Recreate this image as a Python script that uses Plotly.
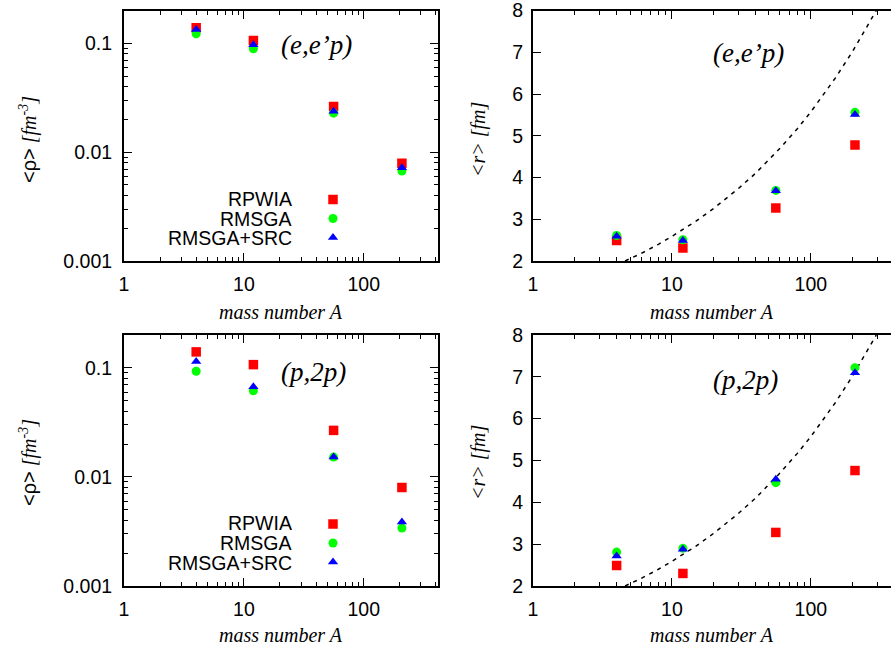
import plotly.graph_objects as go

# ---------------- data ----------------
A = [4, 12, 56, 208]
series_names = ["RPWIA", "RMSGA", "RMSGA+SRC"]

rho_ee_rpwia = [0.139, 0.106, 0.0262, 0.0079]
rho_ee_rmsga = [0.122, 0.089, 0.0228, 0.0067]
rho_ee_src = [0.134, 0.097, 0.0238, 0.0072]

rho_p2p_rpwia = [0.140, 0.107, 0.0267, 0.0080]
rho_p2p_rmsga = [0.093, 0.0615, 0.0152, 0.0034]
rho_p2p_src = [0.1145, 0.067, 0.0152, 0.00387]

r_ee_rpwia = [2.49, 2.31, 3.27, 4.78]
r_ee_rmsga = [2.61, 2.51, 3.69, 5.56]
r_ee_src = [2.59, 2.49, 3.68, 5.51]

r_p2p_rpwia = [2.49, 2.30, 3.28, 4.76]
r_p2p_rmsga = [2.81, 2.90, 4.47, 7.22]
r_p2p_src = [2.72, 2.88, 4.55, 7.10]

# dashed reference curve
curve_A = [4.6, 6, 8, 10, 15, 20, 30, 40, 60, 80, 100, 150, 200, 250, 296]
curve_r = [2.00, 2.18, 2.40, 2.59, 2.96, 3.26, 3.73, 4.10, 4.70, 5.17, 5.57, 6.38, 7.02, 7.56, 8.00]

x_tickvals = [1, 10, 100]
x_ticktext = ["1", "10", "100"]
rho_tickvals = [0.001, 0.01, 0.1]
rho_ticktext = ["0.001", "0.01", "0.1"]
x_minor = [m * 10 ** k for k in range(0, 3) for m in range(2, 10)]
rho_minor = [m * 10.0 ** k for k in range(-3, 0) for m in range(2, 10)]

# ---------------- styling ----------------
W, H = 891, 650
SANS = "Liberation Sans, Arial, sans-serif"
SERIF = "Liberation Serif, Times New Roman, serif"
tickfont = dict(family=SANS, size=19.5, color="black")

styles = [
    dict(symbol="square", size=9.5, color="#ff0000"),
    dict(symbol="circle", size=9, color="#00ff00"),
    dict(symbol="triangle-up", size=9, color="#0000ff"),
]


def px_x(p):
    return p / W


def px_y(p):
    return 1 - p / H


fig = go.Figure()

panels = [
    ("x", "y", [rho_ee_rpwia, rho_ee_rmsga, rho_ee_src], "legend"),
    ("x2", "y2", [r_ee_rpwia, r_ee_rmsga, r_ee_src], None),
    ("x3", "y3", [rho_p2p_rpwia, rho_p2p_rmsga, rho_p2p_src], "legend2"),
    ("x4", "y4", [r_p2p_rpwia, r_p2p_rmsga, r_p2p_src], None),
]

for xa, ya, ser, leg in panels:
    if leg is None:
        fig.add_trace(go.Scatter(x=curve_A, y=curve_r, mode="lines", xaxis=xa, yaxis=ya,
                                 line=dict(color="black", width=1.5, dash="4px,5px"),
                                 showlegend=False, hoverinfo="skip"))
    for vals, st, nm in zip(ser, styles, series_names):
        kw = dict(showlegend=False)
        if leg is not None:
            kw = dict(showlegend=True, legend=leg)
        fig.add_trace(go.Scatter(x=A, y=vals, mode="markers", xaxis=xa, yaxis=ya,
                                 name="", marker=dict(symbol=st["symbol"], size=st["size"],
                                                      color=st["color"], line=dict(width=0)),
                                 **kw))

LEFT_X = [px_x(124), px_x(438)]
RIGHT_X = [px_x(533), 1.0]
TOP_Y = [px_y(261), px_y(10.5)]
BOT_Y = [px_y(586), px_y(335)]


def log_x(domain, rng, anchor):
    return dict(type="log", domain=domain, range=rng, anchor=anchor, automargin=False,
                showline=True, linecolor="black", linewidth=2, mirror="allticks",
                ticks="inside", ticklen=8, tickwidth=1, tickcolor="black",
                tickmode="array", tickvals=x_tickvals, ticktext=x_ticktext,
                minor=dict(ticks="inside", ticklen=4, tickwidth=1, tickcolor="black",
                           tickmode="array", tickvals=x_minor, showgrid=False),
                showgrid=False, zeroline=False, tickfont=tickfont, ticklabelstandoff=5,
                ticklabeloverflow="allow")


def log_y(domain, anchor):
    return dict(type="log", domain=domain, range=[-3, -0.699], anchor=anchor, automargin=False,
                showline=True, linecolor="black", linewidth=2, mirror="allticks",
                ticks="inside", ticklen=8, tickwidth=1, tickcolor="black",
                tickmode="array", tickvals=rho_tickvals, ticktext=rho_ticktext,
                minor=dict(ticks="inside", ticklen=4, tickwidth=1, tickcolor="black",
                           tickmode="array", tickvals=rho_minor, showgrid=False),
                showgrid=False, zeroline=False, tickfont=tickfont, ticklabelstandoff=6,
                ticklabeloverflow="allow")


def lin_y(domain, anchor):
    return dict(type="linear", domain=domain, range=[2, 8], anchor=anchor, dtick=1,
                automargin=False,
                showline=True, linecolor="black", linewidth=2, mirror=False,
                ticks="inside", ticklen=8, tickwidth=1, tickcolor="black",
                showgrid=False, zeroline=False, tickfont=tickfont, ticklabelstandoff=4,
                ticklabeloverflow="allow")


def right_ticks(overlay, anchor):
    return dict(type="linear", overlaying=overlay, side="right", range=[2, 8], anchor=anchor,
                dtick=1, showline=False, ticks="inside", ticklen=8, tickwidth=1,
                automargin=False,
                tickcolor="black", showticklabels=False, showgrid=False, zeroline=False)


right_rng = [0, (891 - 533) / 138.9]
left_rng = [0, 2.619]

fig.update_layout(
    width=W, height=H,
    margin=dict(l=0, r=0, t=0, b=0, autoexpand=False),
    paper_bgcolor="white", plot_bgcolor="white",
    xaxis=log_x(LEFT_X, left_rng, "y"),
    yaxis=log_y(TOP_Y, "x"),
    xaxis2=log_x(RIGHT_X, right_rng, "y2"),
    yaxis2=lin_y(TOP_Y, "x2"),
    xaxis3=log_x(LEFT_X, left_rng, "y3"),
    yaxis3=log_y(BOT_Y, "x3"),
    xaxis4=log_x(RIGHT_X, right_rng, "y4"),
    yaxis4=lin_y(BOT_Y, "x4"),
    yaxis5=right_ticks("y2", "x2"),
    yaxis6=right_ticks("y4", "x4"),
    legend=dict(x=px_x(313), y=px_y(185), xanchor="left", yanchor="top",
                bgcolor="rgba(0,0,0,0)", borderwidth=0, font=dict(size=11),
                tracegroupgap=0),
    legend2=dict(x=px_x(313), y=px_y(509.5), xanchor="left", yanchor="top",
                 bgcolor="rgba(0,0,0,0)", borderwidth=0, font=dict(size=11),
                 tracegroupgap=0),
    showlegend=True,
)

# ---------------- text ----------------
ann = []
title_font = dict(family=SERIF, size=20, color="black")
label_font = dict(family=SERIF, size=27, color="black")
leg_font = dict(family=SANS, size=19.5, color="black")

rho_title = ("<span style=\"font-family:Liberation Sans, Arial, sans-serif;font-style:normal\">&lt;ρ&gt;</span>"
             " <i>[fm<sup>-3</sup>]</i>")
r_title = "<i>&lt;r&gt; [fm]</i>"
x_title = "<i>mass number A</i>"

for yc_axis, yc_plot, lbl_x, lbl_y, lbl in [(140, 311.7, 316, 45, "(e,e’p)"),
                                             (463, 635, 313, 371.7, "(p,2p)")]:
    ann.append(dict(x=px_x(28), y=px_y(yc_axis), xref="paper", yref="paper", text=rho_title,
                    textangle=-90, showarrow=False, font=title_font,
                    xanchor="center", yanchor="middle"))
    ann.append(dict(x=px_x(478), y=px_y(yc_axis), xref="paper", yref="paper", text=r_title,
                    textangle=-90, showarrow=False, font=title_font,
                    xanchor="center", yanchor="middle"))
    ann.append(dict(x=px_x(281), y=px_y(yc_plot), xref="paper", yref="paper", text=x_title,
                    showarrow=False, font=title_font, xanchor="center", yanchor="middle"))
    ann.append(dict(x=px_x(712), y=px_y(yc_plot), xref="paper", yref="paper", text=x_title,
                    showarrow=False, font=title_font, xanchor="center", yanchor="middle"))
    ann.append(dict(x=px_x(lbl_x), y=px_y(lbl_y), xref="paper", yref="paper",
                    text="<i>" + lbl + "</i>", showarrow=False, font=label_font,
                    xanchor="center", yanchor="middle"))

ann.append(dict(x=px_x(748), y=px_y(53), xref="paper", yref="paper", text="<i>(e,e’p)</i>",
                showarrow=False, font=label_font, xanchor="center", yanchor="middle"))
ann.append(dict(x=px_x(745), y=px_y(380), xref="paper", yref="paper", text="<i>(p,2p)</i>",
                showarrow=False, font=label_font, xanchor="center", yanchor="middle"))

for rows in ([199, 219, 238], [523, 543, 563]):
    for yy, nm in zip(rows, series_names):
        ann.append(dict(x=px_x(294), y=px_y(yy), xref="paper", yref="paper", text=nm,
                        showarrow=False, font=leg_font, xanchor="right", yanchor="middle"))

fig.update_layout(annotations=ann)
fig.write_html("out.html",
               config={"displayModeBar": False},
               post_script="document.body.style.margin='0px';document.body.style.overflow='hidden';")
